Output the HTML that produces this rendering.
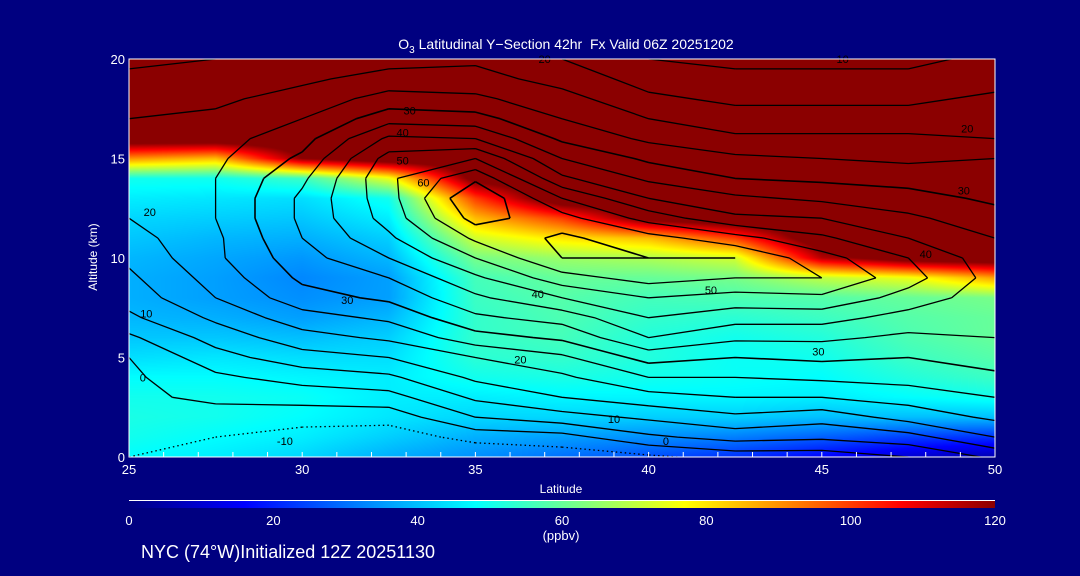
<!DOCTYPE html>
<html><head><meta charset="utf-8">
<style>
html,body{margin:0;padding:0;background:#000080;}
#root{position:relative;width:1080px;height:576px;background:#000080;overflow:hidden;font-family:"Liberation Sans",sans-serif;color:#fff;}
.t{position:absolute;color:#fff;white-space:nowrap;}
canvas{position:absolute;left:129px;top:59px;}
svg{position:absolute;left:0;top:0;}
</style></head>
<body>
<div id="root">
<canvas id="heat" width="866" height="398"></canvas>
<svg id="svg" width="1080" height="576"></svg>
<div class="t" style="left:0;width:1132px;text-align:center;top:36px;font-size:14px;">O<sub style="font-size:10px">3</sub> Latitudinal Y−Section 42hr&nbsp; Fx Valid 06Z 20251202</div>
<div class="t" style="left:43px;top:250px;font-size:12px;transform:rotate(-90deg);width:100px;text-align:center;">Altitude (km)</div>
<div class="t" style="left:511px;width:100px;text-align:center;top:482px;font-size:12px;">Latitude</div>
<div class="t" style="left:511px;width:100px;text-align:center;top:528px;font-size:13px;">(ppbv)</div>
<div class="t" style="left:141px;top:542px;font-size:18px;">NYC (74°W)Initialized 12Z 20251130</div>
</div>
<script>
const lats=[25,27.5,30,32.5,35,37.5,40,42.5,45,47.5,50];
const alts=[0,1,2,3,4,5,6,7,8,9,10,11,12,13,14,15,16,17,18,19,20];
// ozone (ppbv) per latitude column, altitude 0..20 km
const oz25=[48,50,51,50,48,44,41,39,38,38,39,41,43,46,50,90,130,130,130,130,130];
const oz275=[46,48,50,50,48,45,41,38,36,36,37,39,42,45,50,85,130,130,130,130,130];
const oz30=[43,46,48,49,47,44,40,36,34,33,35,38,41,44,55,120,130,130,130,130,130];
const oz325=[38,42,45,46,46,44,42,39,36,36,39,42,46,50,75,130,130,130,130,130,130];
const oz35=[34,38,43,46,50,53,54,54,55,56,62,72,85,100,125,130,130,130,130,130,130];
const oz375=[30,36,43,47,51,54,56,57,58,60,66,80,100,130,130,130,130,130,130,130,130];
const oz40=[26,34,42,47,50,52,52,54,56,60,68,85,125,130,130,130,130,130,130,130,130];
const oz425=[22,32,42,47,49,49,50,53,57,62,72,100,130,130,130,130,130,130,130,130,130];
const oz45=[16,28,40,46,48,50,52,55,58,70,115,130,130,130,130,130,130,130,130,130,130];
const oz475=[10,24,40,48,52,55,57,58,60,75,128,130,130,130,130,130,130,130,130,130,130];
const oz50=[6,22,40,50,55,58,60,60,62,88,130,130,130,130,130,130,130,130,130,130,130];
// contour field (wind) per latitude column
const w25=[-5,-4,-2,-1,-1,0,4,9,12,14,16,18,20,22,23,23,22,20,18,16,14];
const w275=[-8,-5,-2,1,4,8,12,16,20,22,24,24,25,25,25,24,23,21,19,17,15];
const w30=[-10,-7,-3,2,7,13,18,23,28,31,33,35,36,36,34,31,28,25,22,19,17];
const w325=[-10,-8,-3,3,9,15,21,26,31,35,40,44,47,48,49,47,41,33,27,22,18];
const w35=[-10,-3,5,11,16,20,28,34,39,44,50,56,62,65,59,50,40,32,26,22,19];
const w375=[-8,-2,8,15,19,24,31,37,45,53,60,61,57,50,41,35,29,25,22,18,15];
const w40=[-6,4,11,18,25,32,40,45,50,57,60,57,48,40,34,29,24,20,16,13,10];
const w425=[-3,7,14,20,25,30,36,42,48,55,60,52,41,36,30,26,21,17,14,11,9];
const w45=[-3,6,12,20,26,31,36,42,49,55,52,46,40,34,29,25,21,17,14,11,9];
const w475=[0,8,17,22,27,30,34,38,43,47,45,40,36,32,28,24,21,17,14,11,9];
const w50=[6,15,21,25,29,32,35,36,37,38,37,35,32,29,27,25,20,18,16,13,11];
const levels=[-10,-5,0,5,10,15,20,25,30,35,40,45,50,55,60,65];
const xTicks=[25,30,35,40,45,50];
const yTicks=[0,5,10,15,20];
const cbTicks=[0,20,40,60,80,100,120];
const lineLabels=[["20",37.0,20.0],["10",45.6,20.0],["30",33.1,17.4],["40",32.9,16.3],["50",32.9,14.9],["60",33.5,13.8],["20",49.2,16.5],["30",49.1,13.4],["40",48.0,10.2],["50",41.8,8.4],["40",36.8,8.2],["30",31.3,7.9],["20",25.6,12.3],["10",25.5,7.2],["0",25.4,4.0],["20",36.3,4.9],["30",44.9,5.3],["10",39.0,1.9],["0",40.5,0.8],["-10",29.5,0.8]];

const ozone=[oz25,oz275,oz30,oz325,oz35,oz375,oz40,oz425,oz45,oz475,oz50];
const wind=[w25,w275,w30,w325,w35,w375,w40,w425,w45,w475,w50];
const X0=129,X1=995,Y0=59,Y1=457;
const xS=l=>X0+(l-25)/25*(X1-X0);
const yS=a=>Y1-a/20*(Y1-Y0);
const stops=[[0,[0,0,128]],[16,[0,0,255]],[48,[0,255,255]],[63,[128,255,128]],[77,[255,255,0]],[92,[255,128,0]],[107,[255,0,0]],[120,[139,0,0]]];
function cmap(v){
  if(v<=stops[0][0])return stops[0][1];
  for(let i=1;i<stops.length;i++){if(v<=stops[i][0]){const a=stops[i-1],b=stops[i];const t=(v-a[0])/(b[0]-a[0]);return a[1].map((c,k)=>Math.round(c+(b[1][k]-c)*t));}}
  return stops[stops.length-1][1];
}
const cv=document.getElementById('heat');const ctx=cv.getContext('2d');
const W=cv.width,H=cv.height;const img=ctx.createImageData(W,H);
const nL=lats.length,nA=alts.length;
for(let py=0;py<H;py++){
  const alt=(H-0.5-py)/H*20;
  let j=Math.min(nA-2,Math.max(0,Math.floor(alt)));const ty=Math.min(1,Math.max(0,alt-alts[j]));
  for(let px=0;px<W;px++){
    const lat=25+(px+0.5)/W*25;
    let fi=(lat-25)/2.5;let i=Math.min(nL-2,Math.floor(fi));const tx=fi-i;
    const v=(ozone[i][j]*(1-tx)+ozone[i+1][j]*tx)*(1-ty)+(ozone[i][j+1]*(1-tx)+ozone[i+1][j+1]*tx)*ty;
    const c=cmap(v);const k=(py*W+px)*4;
    img.data[k]=c[0];img.data[k+1]=c[1];img.data[k+2]=c[2];img.data[k+3]=255;
  }
}
ctx.putImageData(img,0,0);
const svg=document.getElementById('svg');const NS='http://www.w3.org/2000/svg';
function mk(tag,attrs){const e=document.createElementNS(NS,tag);for(const k in attrs)e.setAttribute(k,attrs[k]);svg.appendChild(e);return e;}
levels.forEach(L=>{
  let d='';
  for(let i=0;i<nL-1;i++)for(let j=0;j<nA-1;j++){
    const c=[[lats[i],alts[j],wind[i][j]],[lats[i+1],alts[j],wind[i+1][j]],[lats[i+1],alts[j+1],wind[i+1][j+1]],[lats[i],alts[j+1],wind[i][j+1]]];
    const pts=[];
    for(let e=0;e<4;e++){const a=c[e],b=c[(e+1)%4];
      if((a[2]<L)!==(b[2]<L)){const t=(L-a[2])/(b[2]-a[2]);pts.push([xS(a[0]+(b[0]-a[0])*t),yS(a[1]+(b[1]-a[1])*t)]);}}
    for(let p=0;p+1<pts.length;p+=2)d+='M'+pts[p][0].toFixed(1)+' '+pts[p][1].toFixed(1)+'L'+pts[p+1][0].toFixed(1)+' '+pts[p+1][1].toFixed(1);
  }
  if(!d)return;
  const el=mk('path',{d:d,fill:'none',stroke:'#000','stroke-width':L===60||L===30?1.6:1.3});
  if(L<0){el.setAttribute('stroke-dasharray','1.5 3');}
  
  
});
lineLabels.forEach(l=>{
  const t=mk('text',{x:xS(l[1]),y:yS(l[2])+4,'font-size':11,'font-family':'Liberation Sans, sans-serif','text-anchor':'middle',fill:'#000'});
  t.textContent=l[0];
  
  
});
const fr=mk('rect',{x:X0,y:Y0,width:X1-X0,height:Y1-Y0,fill:'none',stroke:'#fff','stroke-width':1});


for(let l=26;l<50;l++){
  const tk=mk('line',{x1:xS(l),x2:xS(l),y1:Y1,y2:Y1-5,stroke:'#fff','stroke-width':1});
  
  
}
xTicks.forEach(l=>{
  const t=mk('text',{x:xS(l),y:474,'font-size':13,'font-family':'Liberation Sans, sans-serif','text-anchor':'middle',fill:'#fff'});
  t.textContent=l;
  
  
});
yTicks.forEach(a=>{
  const t=mk('text',{x:125,y:yS(a)+5,'font-size':13,'font-family':'Liberation Sans, sans-serif','text-anchor':'end',fill:'#fff'});
  t.textContent=a;
  
  
});
const defs=mk('defs',{});const g=document.createElementNS(NS,'linearGradient');g.setAttribute('id','cb');defs.appendChild(g);
stops.forEach(s=>{const st=document.createElementNS(NS,'stop');st.setAttribute('offset',(s[0]/120*100)+'%');st.setAttribute('stop-color','rgb('+s[1].join(',')+')');g.appendChild(st);});
const cbl=mk('line',{x1:X0,x2:X1,y1:500.5,y2:500.5,stroke:'#fff','stroke-width':1});


const cb=mk('rect',{x:X0,y:501,width:X1-X0,height:7,fill:'url(#cb)'});


cbTicks.forEach(v=>{
  const t=mk('text',{x:X0+v/120*(X1-X0),y:525,'font-size':13,'font-family':'Liberation Sans, sans-serif','text-anchor':'middle',fill:'#fff'});
  t.textContent=v;
  
  
});
</script>
</body></html>
